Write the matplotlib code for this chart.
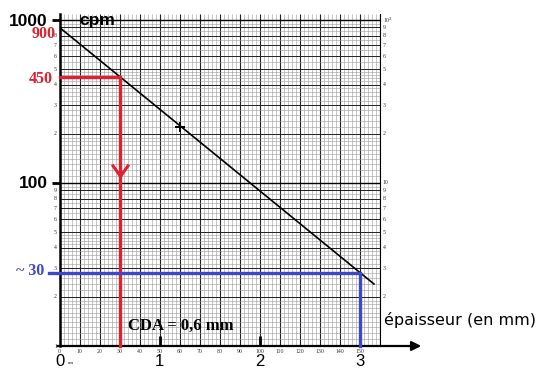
import numpy as np
import matplotlib.pyplot as plt
from matplotlib.path import Path
from matplotlib.ticker import NullLocator

# --- data (x in paper units: 50 units = 1 mm) ---
line_x = [0, 157]
line_cpm = [900, 24]
mark_x, mark_cpm = [60], [220]

half_x, half_cpm = 30, 450      # 900 / 2 -> CDA
end_x, end_cpm = 150, 28        # ~30 cpm at 3 mm
arrow_cpm = 120                 # chevron on the red read-off line

x_small = list(range(0, 160, 10))
x_big = ['0', '1', '2', '3']
x_big_pos = [0, 50, 100, 150]
decades = [10, 100]
digits = [2, 3, 4, 5, 6, 7, 8, 9]

W, H = 541, 371
RED = '#e0202e'
BLUE = '#3c48c8'


def px(x, y):
    return x / W, 1 - y / H


fig = plt.figure(figsize=(W / 100, H / 100), dpi=100)
ax = fig.add_axes([59.5 / W, 25 / H, 320.5 / W, 332 / H])
ax.set_yscale('log')
ax.set_xlim(0, 160)
ax.set_ylim(10, 1088)
ax.yaxis.set_minor_locator(NullLocator())
ax.xaxis.set_minor_locator(NullLocator())

# graph paper
ax.vlines(np.arange(0, 161, 2), 10, 1088, color='#9a9a9a', lw=0.4, zorder=0)
ax.vlines(np.arange(0, 161, 10), 10, 1088, color='#222222', lw=0.8, zorder=0)
for d in decades + [1000]:
    fine = np.concatenate([np.arange(1, 2, 0.1), np.arange(2, 5, 0.2), np.arange(5, 10, 0.5)]) * d / 10
    fine = fine[fine <= 1088]
    ax.hlines(fine, 0, 160, color='#9a9a9a', lw=0.4, zorder=0)
for d in decades:
    ax.hlines([k * d for k in digits], 0, 160, color='#222222', lw=0.7, zorder=0)
ax.hlines([10, 100, 1000], 0, 160, color='black', lw=1.0, zorder=0)

ax.spines['top'].set_visible(False)
ax.spines['bottom'].set_visible(False)
ax.spines['left'].set_linewidth(1.8)
ax.spines['right'].set_linewidth(0.8)

ax.set_xticks(x_big_pos[1:])
ax.set_yticks([100, 1000])
ax.tick_params(axis='x', direction='in', length=7, width=2, labelbottom=False)
ax.tick_params(axis='y', direction='out', length=6, width=2, labelleft=False, right=False)

# x axis with arrow
ax.annotate('', xy=(182, 10), xytext=(-2.5, 10),
            arrowprops=dict(arrowstyle='-|>', lw=1.6, color='black', mutation_scale=14),
            annotation_clip=False)

# attenuation line
ax.plot(line_x, line_cpm, color='black', lw=1.2, zorder=3)
ax.plot(mark_x, mark_cpm, '+', color='black', ms=7, mew=1.4, zorder=3)

# read-offs
ax.plot([0, half_x, half_x], [half_cpm, half_cpm, 10], color=RED, lw=2.4,
        clip_on=False, zorder=4, solid_joinstyle='miter')
chevron = Path([(-1, 0.7), (0, -0.7), (1, 0.7)], [Path.MOVETO, Path.LINETO, Path.LINETO])
ax.plot([half_x], [arrow_cpm], marker=chevron, ms=12, mfc='none', mec=RED, mew=2.2,
        zorder=5, clip_on=False)
ax.plot([-5, end_x, end_x], [end_cpm, end_cpm, 10], color=BLUE, lw=2.4,
        clip_on=False, zorder=4, solid_joinstyle='miter')

# small printed scale on the paper
for v in x_small:
    ax.annotate(str(v), (v, 10), xytext=(0, -2), textcoords='offset points',
                fontsize=4.2, family='Liberation Serif', ha='center', va='top',
                color='#333333', annotation_clip=False)
for lab, v in zip(x_big, x_big_pos):
    ax.annotate(lab, (v, 10), xytext=(0, -6), textcoords='offset points',
                ha='center', va='top', fontsize=12, family='Liberation Sans',
                annotation_clip=False)
ax.annotate('cm', (0, 10), xytext=(6, -13), textcoords='offset points',
            fontsize=3.5, family='Liberation Serif', annotation_clip=False)

for d in decades:
    for k in digits:
        ax.text(161.5, k * d, str(k), fontsize=4.2, family='Liberation Serif',
                ha='left', va='center', color='#333333')
        if k * d != 900:
            ax.text(-1.2, k * d, str(k), fontsize=4.2, family='Liberation Serif',
                    ha='right', va='center', color='#333333')
ax.text(161.5, 1000, '10$^2$', fontsize=4.2, family='Liberation Serif', ha='left', va='center', color='#333333')
ax.text(161.5, 100, '10', fontsize=4.2, family='Liberation Serif', ha='left', va='center', color='#333333')
ax.text(-1.2, 10, '1', fontsize=4.2, family='Liberation Serif', ha='right', va='center', color='#333333')

# annotations
fig.text(*px(47, 25.5), '1000', fontsize=12.5, family='Liberation Sans', weight='bold',
         ha='right', va='baseline')
fig.text(*px(79, 25.5), 'cpm', fontsize=12.5, family='Liberation Sans', weight='bold',
         ha='left', va='baseline')
fig.text(*px(48, 188), '100', fontsize=12.5, family='Liberation Sans', weight='bold',
         ha='right', va='baseline')
fig.text(*px(56, 37.5), '900', fontsize=11.5, family='Liberation Serif', weight='bold',
         color=RED, ha='right', va='baseline')
fig.text(*px(53, 83), '450', fontsize=11.5, family='Liberation Serif', weight='bold',
         color=RED, ha='right', va='baseline')
fig.text(*px(44, 275), '~ 30', fontsize=11.5, family='Liberation Serif', weight='bold',
         color=BLUE, ha='right', va='baseline')
fig.text(*px(128, 330), 'CDA = 0,6 mm', fontsize=12, family='Liberation Serif', weight='bold',
         ha='left', va='baseline')
fig.text(*px(384, 325), 'épaisseur (en mm)', fontsize=11.5, family='DejaVu Sans',
         ha='left', va='baseline')

fig.savefig('out.png', dpi=100)
